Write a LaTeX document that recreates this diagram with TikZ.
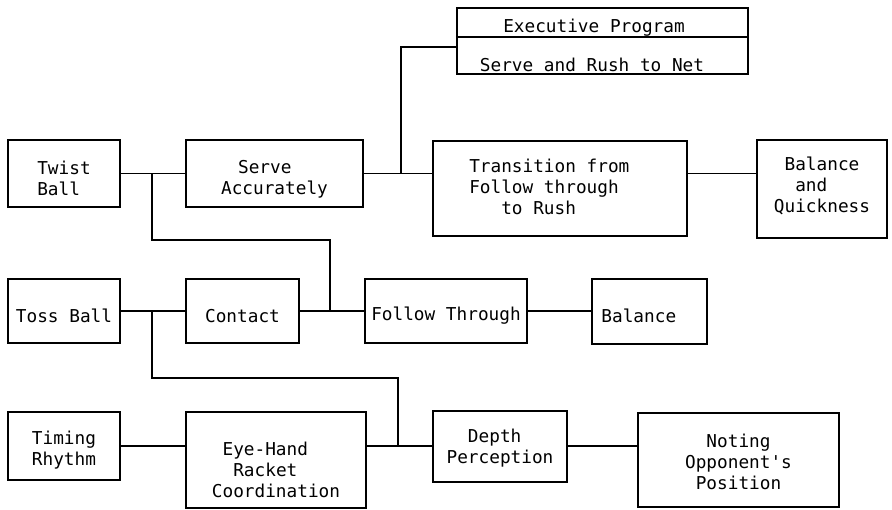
\documentclass[tikz,border=0pt]{standalone}
\usepackage{fontspec}
\setmonofont{DejaVu Sans Mono}
\newcommand\ttlabel{\ttfamily\fontsize{13.3}{15.8}\selectfont}
\begin{document}
\begin{tikzpicture}[x=0.75pt,y=-0.75pt,
  sz/.style n args={2}{minimum width=#1*0.75pt, minimum height=#2*0.75pt},
  box/.style={draw, line width=1.6pt, inner sep=0pt},
  txt/.style={inner sep=0pt, align=left, font=\ttlabel},
  down/.style={yshift=-#1*0.75pt},
  link/.style={line width=1.3pt},
  caption/.style={font=\ttlabel, anchor=base, inner sep=0pt}]
\useasboundingbox (0,0) rectangle (892,510);

% executive program box
\node[box, sz={291}{66}] (exec) at (602.5,41) {};
\coordinate (execmid) at (0,37);
\draw[link] (exec.west |- execmid) -- (exec.east |- execmid);
\node[caption] (exectitle) at (594,33) {Executive Program};
\node[caption] (execname) at (592,72) {Serve and Rush to Net};

% first row
\node[box, sz={112}{67}] (twist) at (64,173.5) {};
\node[txt, down=5] (twisttext) at (twist) {Twist\\Ball};
\node[box, sz={177}{67}] (serve) at (274.5,173.5) {};
\node[txt, down=6] (servetext) at (serve) {\hspace*{0.96em}Serve\\Accurately};
\node[box, sz={254}{95}] (trans) at (560,188.5) {};
\node[txt, down=-2] (transtext) at (trans) {Transition from\phantom{xx}\\Follow through\\\phantom{xxx}to Rush};
\node[box, sz={130}{98}] (bq) at (822,189) {};
\node[txt, down=-3] (bqtext) at (bq) {\phantom{x}Balance\\\phantom{xx}and\\Quickness};

% second row
\node[box, sz={112}{64}] (toss) at (64,311) {};
\node[txt, down=5] (tosstext) at (toss) {Toss Ball};
\node[box, sz={113}{64}] (contact) at (242.5,311) {};
\node[txt, down=5] (contacttext) at (contact) {Contact};
\node[box, sz={162}{64}] (follow) at (446,311) {};
\node[txt, down=5] (followtext) at (follow) {Follow Through};
\node[box, sz={115}{65}] (balance) at (649.5,311.5) {};
\node[txt, down=4] (balancetext) at (balance) {Balance\phantom{xx}};

% third row
\node[box, sz={112}{68}] (timing) at (64,446) {};
\node[txt, down=4] (timingtext) at (timing) {Timing\\Rhythm};
\node[box, sz={180}{96}] (eyehand) at (276,460) {};
\node[txt, down=10] (eyehandtext) at (eyehand) {\phantom{x}Eye-Hand\\\phantom{xx}Racket\\Coordination};
\node[box, sz={134}{71}] (depth) at (500,446.5) {};
\node[txt, down=2] (depthtext) at (depth) {\phantom{xx}Depth\\Perception};
\node[box, sz={201}{94}] (noting) at (738.5,460) {};
\node[txt, down=2] (notingtext) at (noting) {\phantom{xx}Noting\\Opponent's\\\phantom{x}Position};

% executive program feed
\coordinate (execfeed) at (401,47);
\draw[link] (exec.west |- execfeed) -- (execfeed) -- (execfeed |- serve.east);

% first row links
\draw[link] (twist.east) -- (serve.west);
\draw[link] (serve.east) -- (serve.east -| trans.west);
\draw[link] (trans.east |- serve.east) -- (bq.west |- serve.east);

% twist ball branch down to the second row
\coordinate (twistdrop) at (152,240);
\coordinate (contactjoin) at (330,240);
\draw[link] (twistdrop |- twist.east) -- (twistdrop) -- (contactjoin) -- (contactjoin |- contact.east);

% second row links
\draw[link] (toss.east) -- (contact.west);
\draw[link] (contact.east) -- (follow.west);
\draw[link] (follow.east) -- (balance.west |- follow.east);

% toss ball branch down to the third row
\coordinate (tossdrop) at (152,378);
\coordinate (depthjoin) at (398,378);
\draw[link] (tossdrop |- toss.east) -- (tossdrop) -- (depthjoin) -- (depthjoin |- timing.east);

% third row links
\draw[link] (timing.east) -- (timing.east -| eyehand.west);
\draw[link] (eyehand.east |- timing.east) -- (depth.west |- timing.east);
\draw[link] (depth.east |- timing.east) -- (noting.west |- timing.east);
\end{tikzpicture}
\end{document}
